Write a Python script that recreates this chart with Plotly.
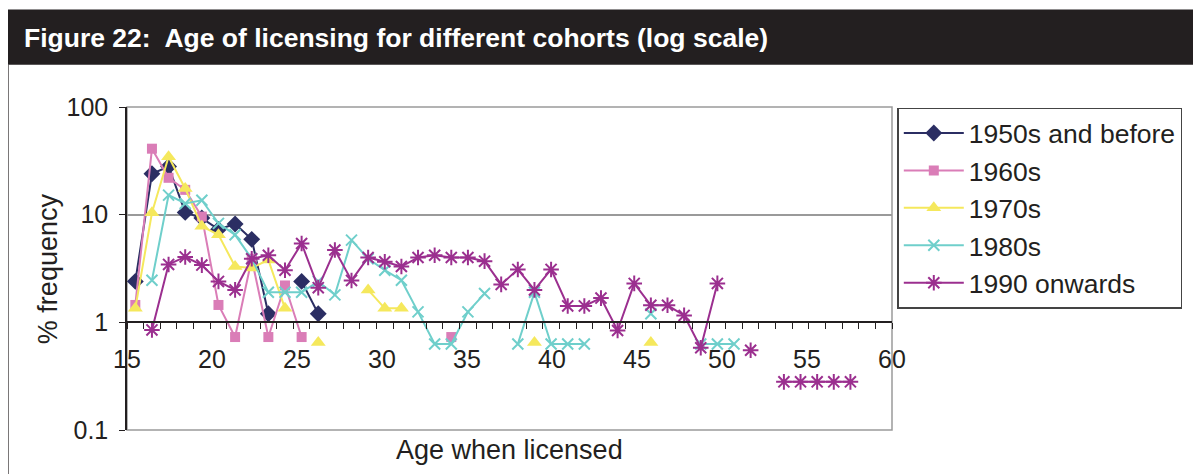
import plotly.graph_objects as go

# age categories (one point per year of age)
ages = [15, 16, 17, 18, 19, 20, 21, 22, 23, 24, 25, 26, 27, 28, 29, 30, 31, 32, 33, 34, 35, 36,
        37, 38, 39, 40, 41, 42, 43, 44, 45, 46, 47, 48, 49, 50, 51, 52, 53, 54, 55, 56, 57, 58]

# % frequency per cohort, None = no value shown
pct_1950s = [2.4, 24, 28, 10.5, 9.3, 7.3, 8.2, 5.9, 1.2, None, 2.4, 1.2]
pct_1960s = [1.45, 41, 22, 17, 9.6, 1.45, 0.73, 3.9, 0.73, 2.2, 0.73,
             None, None, None, None, None, None, None, None, 0.73]
pct_1970s = [1.35, 10.4, 34.5, 17.5, 7.8, 6.5, 3.3, 3.2, 3.8, 1.35, None, 0.65, None, None,
             2.0, 1.35, 1.35, None, None, None, None, None, None, None, 0.65,
             None, None, None, None, None, None, 0.65]
pct_1980s = [None, 2.46, 15.2, 12.7, 13.6, 8.3, 6.5, 3.9, 1.9, 1.9, 1.9, 2.4, 1.8, 5.8, 3.9,
             3.05, 2.46, 1.25, 0.63, 0.63, 1.25, 1.85, None, 0.63, 1.9, 0.63, 0.63, 0.63,
             None, None, None, 1.2, None, None, 0.63, 0.63, 0.63]
pct_1990s = [None, 0.85, 3.45, 4.05, 3.4, 2.4, 2.0, 3.9, 4.2, 3.05, 5.4, 2.1, 4.7, 2.45, 4.0,
             3.65, 3.3, 4.0, 4.2, 4.0, 4.0, 3.7, 2.25, 3.1, 2.0, 3.1, 1.42, 1.42, 1.68, 0.84,
             2.3, 1.44, 1.44, 1.16, 0.58, 2.3, None, 0.55, None, 0.28, 0.28, 0.28, 0.28, 0.28]

x_labels = [15, 20, 25, 30, 35, 40, 45, 50, 55, 60]
y_ticks = [0.1, 1, 10, 100]

series = [
    ("1950s and before", pct_1950s, "#2b2e63", "diamond", 13),
    ("1960s", pct_1960s, "#da7db7", "square", 10),
    ("1970s", pct_1970s, "#f5e85c", "triangle-up", 13),
    ("1980s", pct_1980s, "#6fcfcb", "x-thin-open", 11),
    ("1990 onwards", pct_1990s, "#9b2f8f", "asterisk-open", 13),
]

# the page adds an 8px body margin, so the figure is sized to fit the window
PAGE_OFF = 8
W, H = 1201 - PAGE_OFF, 474 - PAGE_OFF
PLOT_L, PLOT_R, PLOT_T, PLOT_B = 127.3, 891.7, 107.3, 430  # plot box, page pixels
L, T = PLOT_L - PAGE_OFF, PLOT_T - PAGE_OFF
R, B = W - (PLOT_R - PAGE_OFF), H - (PLOT_B - PAGE_OFF)
INK = "#231f20"
FONT = "Liberation Sans, Arial, Helvetica, sans-serif"


def px_x(px):
    return (px - PLOT_L) / (PLOT_R - PLOT_L)


def px_y(py):
    return (PLOT_B - py) / (PLOT_B - PLOT_T)


fig = go.Figure()
for name, vals, color, symbol, size in series:
    fig.add_trace(go.Scatter(
        x=ages[:len(vals)], y=vals, name=name, mode="lines+markers",
        line=dict(color=color, width=2),
        marker=dict(symbol=symbol, size=size, color=color,
                    line=dict(color=color, width=2 if "open" in symbol else 0)),
    ))

n_cat = 46  # ages 15..60, one slot each
label_pos = [14.5 + (v - x_labels[0]) * n_cat / (x_labels[-1] - x_labels[0]) for v in x_labels]

fig.update_layout(
    width=W, height=H,
    margin=dict(l=L, r=R, t=T, b=B),
    paper_bgcolor="white", plot_bgcolor="white",
    font=dict(family=FONT, size=25, color=INK),
    showlegend=True,
    legend=dict(x=px_x(897), y=px_y(108), xanchor="left", yanchor="top",
                bordercolor="#444444", borderwidth=1.5, bgcolor="white",
                font=dict(size=26.5), tracegroupgap=0, itemwidth=60),
    xaxis=dict(
        range=[14.5, 60.5], anchor="free", position=1 / 3,
        showline=True, linecolor=INK, linewidth=1.5, showgrid=False, zeroline=False,
        tickmode="array", tickvals=label_pos, ticktext=[str(v) for v in x_labels],
        ticks="", ticklabelstandoff=15,
        minor=dict(tickmode="linear", tick0=14.5, dtick=1, ticks="outside",
                   ticklen=6, tickwidth=1.2, tickcolor=INK, showgrid=False),
    ),
    yaxis=dict(
        type="log", range=[-1, 2],
        tickmode="array", tickvals=y_ticks, ticktext=[str(v) for v in y_ticks],
        ticks="outside", ticklen=6, tickwidth=1.2, tickcolor=INK,
        showline=True, linecolor=INK, linewidth=1.5,
        showgrid=True, gridcolor="#9a9a9a", gridwidth=1.5, zeroline=False,
        ticklabelstandoff=6,
    ),
    shapes=[
        dict(type="rect", xref="paper", yref="paper", x0=0, x1=1, y0=0, y1=1,
             line=dict(color="#9a9a9a", width=1.5), layer="below"),
        dict(type="rect", xref="paper", yref="paper", x0=px_x(7), x1=px_x(1205),
             y0=px_y(65), y1=px_y(10), fillcolor=INK, line=dict(width=0)),
        dict(type="line", xref="paper", yref="paper", x0=px_x(8), x1=px_x(8),
             y0=px_y(65), y1=px_y(480), line=dict(color=INK, width=2)),
    ],
    annotations=[
        dict(text="<b>Figure 22:  Age of licensing for different cohorts (log scale)</b>",
             xref="paper", yref="paper", x=px_x(22), y=px_y(38), xanchor="left",
             yanchor="middle", showarrow=False, font=dict(size=26.5, color="white")),
        dict(text="% frequency", xref="paper", yref="paper", x=px_x(48), y=0.5,
             textangle=-90, showarrow=False, xanchor="center", yanchor="middle",
             font=dict(size=27)),
        dict(text="Age when licensed", xref="paper", yref="paper", x=0.5, y=px_y(450),
             showarrow=False, xanchor="center", yanchor="middle", font=dict(size=27)),
    ],
)

fig.write_html("out.html")
